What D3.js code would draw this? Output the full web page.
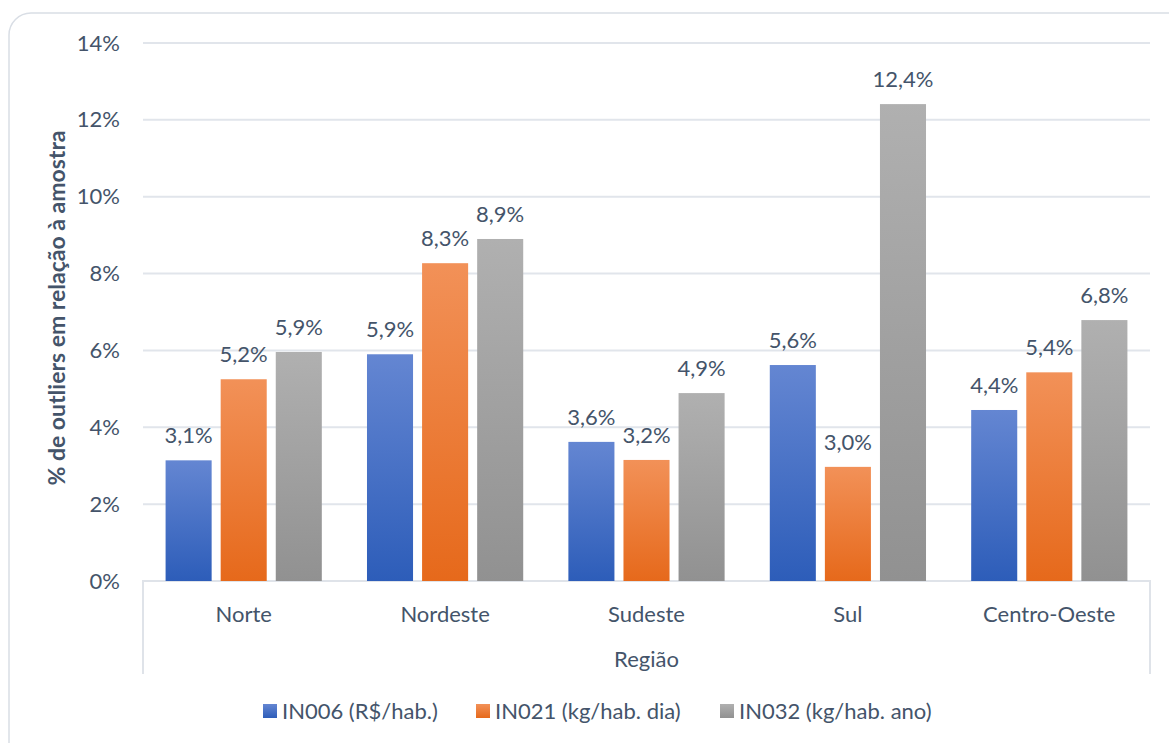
<!DOCTYPE html>
<html><head><meta charset="utf-8">
<script src="https://cdn.jsdelivr.net/npm/d3@7"></script>
<style>
html,body{margin:0;padding:0;background:#fff;}
text{font-family:"Lato","Open Sans",sans-serif;}
</style></head>
<body>
<svg id="chart" width="1169" height="743"></svg>
<script>
const categories = ["Norte","Nordeste","Sudeste","Sul","Centro-Oeste"];
const seriesNames = ["IN006 (R$/hab.)","IN021 (kg/hab. dia)","IN032 (kg/hab. ano)"];
const in006 = [3.14, 5.90, 3.62, 5.62, 4.45];
const in021 = [5.25, 8.27, 3.15, 2.97, 5.43];
const in032 = [5.96, 8.90, 4.89, 12.41, 6.79];
const labels006 = ["3,1%","5,9%","3,6%","5,6%","4,4%"];
const labels021 = ["5,2%","8,3%","3,2%","3,0%","5,4%"];
const labels032 = ["5,9%","8,9%","4,9%","12,4%","6,8%"];
const yTicks = [0,2,4,6,8,10,12,14];

const series = [
  {name: seriesNames[0], values: in006, labels: labels006, top:"#6486d2", bottom:"#2d5db9"},
  {name: seriesNames[1], values: in021, labels: labels021, top:"#f29158", bottom:"#e6691b"},
  {name: seriesNames[2], values: in032, labels: labels032, top:"#b0b0b0", bottom:"#919191"}
];

const svg = d3.select("#chart");
const textColor = "#44546a";
const FS = 22;
const L = 143, R = 1150, T = 43, B = 581;

// outer border
svg.append("rect").attr("x",9).attr("y",13).attr("width",1180).attr("height",760)
  .attr("rx",22).attr("fill","#fff").attr("stroke","#d9dee5").attr("stroke-width",1.5);

const defs = svg.append("defs");
series.forEach((s,i)=>{
  const g = defs.append("linearGradient").attr("id","grad"+i).attr("x1",0).attr("y1",0).attr("x2",0).attr("y2",1);
  g.append("stop").attr("offset","0%").attr("stop-color",s.top);
  g.append("stop").attr("offset","100%").attr("stop-color",s.bottom);
});

const x = d3.scaleBand().domain(categories).range([L, R]).paddingInner(0).paddingOuter(0);
const y = d3.scaleLinear().domain([0,14]).range([B, T]);
const xs = d3.scaleBand().domain(d3.range(series.length)).range([0, x.bandwidth()]).paddingInner(0.164).paddingOuter(0.41);

// gridlines
svg.append("g").selectAll("line").data(yTicks.filter(d=>d>0)).join("line")
  .attr("x1",L).attr("x2",R).attr("y1",d=>y(d)).attr("y2",d=>y(d))
  .attr("stroke","#e1e5eb").attr("stroke-width",2);

// y labels
const yAxis = d3.axisLeft(y).tickValues(yTicks).tickFormat(d=>d+"%").tickSize(0).tickPadding(0);
const ya = svg.append("g").attr("transform",`translate(${L-23},0)`).call(yAxis);
ya.select(".domain").remove();
ya.selectAll("text").attr("fill",textColor).attr("font-size",FS).attr("font-family","Lato");

// x axis box
svg.append("path").attr("d",`M${L},674 V${B} H${R} V674`).attr("fill","none").attr("stroke","#dfe3e9").attr("stroke-width",2);

// bars
series.forEach((s,i)=>{
  const g = svg.append("g");
  g.selectAll("rect").data(categories).join("rect")
    .attr("x",c=>x(c)+xs(i)).attr("width",xs.bandwidth())
    .attr("y",(c,j)=>y(s.values[j])).attr("height",(c,j)=>B-y(s.values[j]))
    .attr("fill",`url(#grad${i})`);
  g.selectAll("text").data(categories).join("text")
    .attr("x",c=>x(c)+xs(i)+xs.bandwidth()/2)
    .attr("y",(c,j)=>y(s.values[j])-17)
    .attr("text-anchor","middle").attr("fill",textColor).attr("font-size",FS)
    .text((c,j)=>s.labels[j]);
});

// x labels
const xAxis = d3.axisBottom(x).tickSize(0).tickPadding(0);
const xa = svg.append("g").attr("transform",`translate(0,${B+41})`).call(xAxis);
xa.select(".domain").remove();
xa.selectAll("text").attr("fill",textColor).attr("font-size",FS).attr("font-family","Lato").attr("dy","0");

// axis titles
svg.append("text").attr("x",(L+R)/2).attr("y",667).attr("text-anchor","middle")
  .attr("fill",textColor).attr("font-size",FS).text("Região");
svg.append("text").attr("transform",`translate(65,308) rotate(-90)`).attr("text-anchor","middle")
  .attr("fill",textColor).attr("font-size",23).attr("font-weight","bold").text("% de outliers em relação à amostra");

// legend
const legX = [263, 476, 720];
const lg = svg.append("g");
series.forEach((s,i)=>{
  lg.append("rect").attr("x",legX[i]).attr("y",704).attr("width",14).attr("height",14).attr("fill",`url(#grad${i})`);
  lg.append("text").attr("x",legX[i]+19).attr("y",719).attr("fill",textColor).attr("font-size",FS).text(s.name);
});
</script>
</body></html>
